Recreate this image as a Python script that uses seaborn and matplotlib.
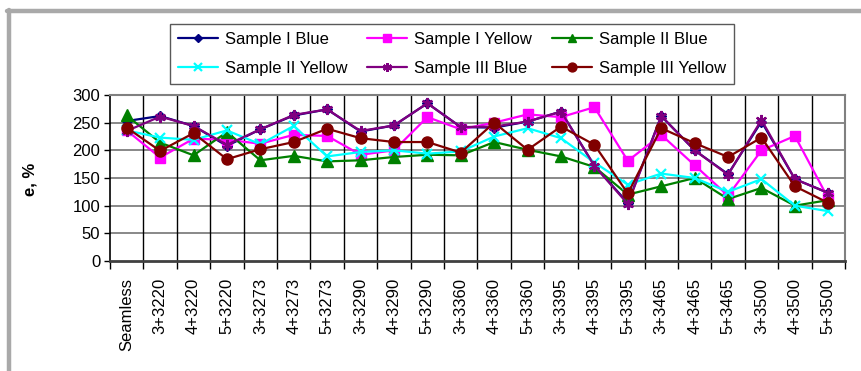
import matplotlib
matplotlib.use("Agg")
import matplotlib.pyplot as plt
import seaborn as sns
import pandas as pd
from matplotlib.lines import Line2D

categories = ["Seamless", "3+3220", "4+3220", "5+3220", "3+3273", "4+3273", "5+3273",
              "3+3290", "4+3290", "5+3290", "3+3360", "4+3360", "5+3360",
              "3+3395", "4+3395", "5+3395", "3+3465", "4+3465", "5+3465",
              "3+3500", "4+3500", "5+3500"]

sample_i_blue = [253, 262, 244, 208, 238, 263, 274, 234, 245, 285, 242, 241, 252,
                 270, 172, 105, 262, 200, 157, 252, 148, 123]
sample_i_yellow = [236, 187, 221, 219, 212, 228, 226, 192, 200, 260, 238, 250, 265,
                   260, 278, 181, 228, 173, 118, 200, 226, 113]
sample_ii_blue = [263, 214, 191, 233, 182, 190, 180, 182, 188, 192, 191, 215, 201,
                  189, 170, 120, 135, 150, 112, 132, 100, 110]
sample_ii_yellow = [236, 223, 219, 236, 211, 244, 189, 197, 200, 194, 198, 225, 240,
                    222, 178, 138, 158, 150, 125, 148, 100, 90]
sample_iii_blue = [235, 261, 244, 210, 238, 264, 274, 235, 245, 285, 242, 243, 252,
                   270, 172, 103, 262, 200, 156, 255, 148, 123]
sample_iii_yellow = [241, 199, 231, 184, 202, 215, 239, 222, 215, 215, 196, 250, 201,
                     243, 210, 122, 240, 213, 188, 223, 135, 105]

series_names = ["Sample I Blue", "Sample I Yellow", "Sample II Blue",
                "Sample II Yellow", "Sample III Blue", "Sample III Yellow"]
series_values = [sample_i_blue, sample_i_yellow, sample_ii_blue,
                 sample_ii_yellow, sample_iii_blue, sample_iii_yellow]
colors = ["#000080", "#FF00FF", "#008000", "#00FFFF", "#800080", "#800000"]
markers = ["D", "s", "^", "x", (6, 2, 0), "o"]
msizes = [5.5, 7.5, 8, 7, 8, 8]

sns.set_theme(style="white")
plt.rcParams["font.family"] = ["Liberation Sans", "DejaVu Sans"]

fig = plt.figure(figsize=(8.61, 3.71), dpi=100)
W, H = 861, 371
ax = fig.add_axes([110 / W, 1 - 261 / H, (845 - 110) / W, (261 - 95) / H])

for name, vals, c, m, ms in zip(series_names, series_values, colors, markers, msizes):
    df = pd.DataFrame({"x": list(range(len(categories))), "y": vals})
    mew = 1.6 if m in ("x",) or isinstance(m, tuple) else 1.0
    sns.lineplot(data=df, x="x", y="y", ax=ax, color=c, marker=m, markersize=ms,
                 markeredgecolor=c, markerfacecolor=c, markeredgewidth=mew,
                 linewidth=1.6, label=name, sort=False, legend=False)

n = len(categories)
ax.set_xlim(-0.5, n - 0.5)
ax.set_ylim(0, 300)
ax.set_yticks(range(0, 301, 50))
ax.set_xticks(range(n))
ax.set_xticklabels(categories, rotation=90, fontsize=12, color="black")
ax.set_xticks([i + 0.5 for i in range(-1, n)], minor=True)
ax.tick_params(axis="x", which="major", length=0, pad=12)
ax.tick_params(axis="x", which="minor", length=6, width=1, color="black", direction="out", bottom=True)
ax.tick_params(axis="y", which="major", length=4, width=1, color="black", direction="out",
               left=True, labelsize=12, labelcolor="black", pad=3)
ax.grid(False)
for yv in range(50, 301, 50):
    ax.axhline(yv, color="#7f7f7f", linewidth=1.3, zorder=0.5)
for i in range(n - 1):
    ax.axvline(i + 0.5, color="black", linewidth=1.0, zorder=0.5)

ax.spines["left"].set_color("black")
ax.spines["left"].set_linewidth(1.2)
ax.spines["bottom"].set_color("#404040")
ax.spines["bottom"].set_linewidth(2)
ax.spines["top"].set_color("#808080")
ax.spines["top"].set_linewidth(1.5)
ax.spines["right"].set_color("#808080")
ax.spines["right"].set_linewidth(1.5)

ax.set_xlabel("")
ax.set_ylabel("e, %", fontsize=12, fontweight="bold", color="black")
ax.yaxis.set_label_coords((37 - 110) / (845 - 110), 0.49)

handles, labels = ax.get_legend_handles_labels()
order = [0, 3, 1, 4, 2, 5]
leg = fig.legend([handles[i] for i in order], [labels[i] for i in order], ncol=3,
                 loc="center", bbox_to_anchor=((172 + 732) / 2 / W, 1 - 54 / H),
                 fontsize=12, frameon=True, fancybox=False, edgecolor="#303030",
                 handlelength=2.4, handletextpad=0.4, columnspacing=1.2,
                 labelspacing=0.8, borderpad=0.5, markerscale=0.8)
leg.get_frame().set_linewidth(1.0)
for t in leg.get_texts():
    t.set_color("black")

# outer grey frame (top and left)
fig.add_artist(Line2D([7 / W, 1.0], [1 - 11 / H, 1 - 11 / H], color="#a9a9a9",
                      linewidth=3.2, transform=fig.transFigure))
fig.add_artist(Line2D([9 / W, 9 / W], [0, 1 - 9.5 / H], color="#a9a9a9",
                      linewidth=3.2, transform=fig.transFigure))

fig.savefig("out.png", dpi=100, facecolor="white")
